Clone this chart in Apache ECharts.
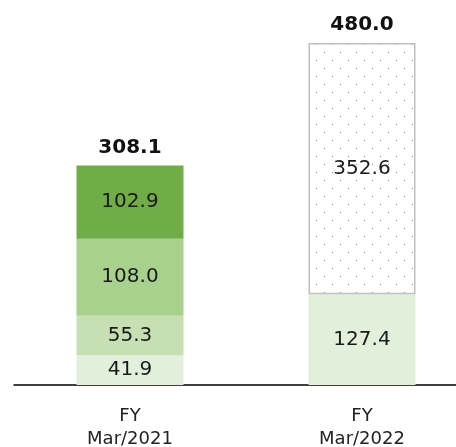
<!DOCTYPE html>
<html>
<head>
<meta charset="utf-8">
<script src="https://cdn.jsdelivr.net/npm/echarts@6/dist/echarts.min.js"></script>
<style>
  html, body { margin: 0; padding: 0; background: #fff; }
  #chart { width: 456px; height: 447px; }
</style>
</head>
<body>
<div id="chart"></div>
<script>
const categories = ['FY\nMar/2021', 'FY\nMar/2022']
const seg1 = [41.9, 127.4]
const seg2 = [55.3, null]
const seg3 = [108.0, null]
const seg4 = [102.9, null]
const forecast = [null, 352.6]
const totals = [308.1, 480.0]

// 点状パターン
const tile = document.createElement('canvas')
tile.width = 16
tile.height = 16
const ctx = tile.getContext('2d')
ctx.fillStyle = '#fff'
ctx.fillRect(0, 0, 16, 16)
ctx.fillStyle = '#8c8c8c'
ctx.fillRect(4, 4, 1, 1)
ctx.fillRect(12, 12, 1, 1)

const font = 'DejaVu Sans'
const segLabel = {
  show: true,
  position: 'inside',
  color: '#1a1a1a',
  fontSize: 20,
  fontFamily: font,
  formatter: p => p.value.toFixed(1)
}

function seg (data, color, extra) {
  return Object.assign({
    type: 'bar',
    stack: 'a',
    data: data,
    barWidth: 107,
    itemStyle: { color: color },
    label: segLabel,
    emphasis: { disabled: true }
  }, extra || {})
}

const chart = echarts.init(document.getElementById('chart'))
chart.setOption({
  animation: false,
  grid: { left: 14, width: 464, top: 43, bottom: 62, outerBoundsMode: 'none' },
  xAxis: {
    type: 'category',
    data: categories,
    axisLine: { lineStyle: { color: '#000', width: 1.5 } },
    axisTick: { show: false },
    axisLabel: {
      color: '#222',
      fontSize: 18,
      fontFamily: font,
      lineHeight: 23,
      margin: 20
    }
  },
  yAxis: {
    type: 'value',
    min: 0,
    max: 480,
    show: false,
    splitLine: { show: false }
  },
  series: [
    seg(seg1, '#e2efda'),
    seg(seg2, '#c6e0b4'),
    seg(seg3, '#a9d18e'),
    seg(seg4, '#70ad47'),
    seg(forecast, null, {
      itemStyle: {
        color: { image: tile, repeat: 'repeat' },
        borderColor: '#bfbfbf',
        borderWidth: 1.5
      }
    }),
    {
      type: 'scatter',
      data: totals,
      symbolSize: 0,
      silent: true,
      itemStyle: { opacity: 1 },
      label: {
        show: true,
        position: 'top',
        distance: 8,
        color: '#111',
        fontSize: 20,
        fontWeight: 'bold',
        fontFamily: font,
        formatter: p => p.value.toFixed(1)
      }
    }
  ]
})
</script>
</body>
</html>
